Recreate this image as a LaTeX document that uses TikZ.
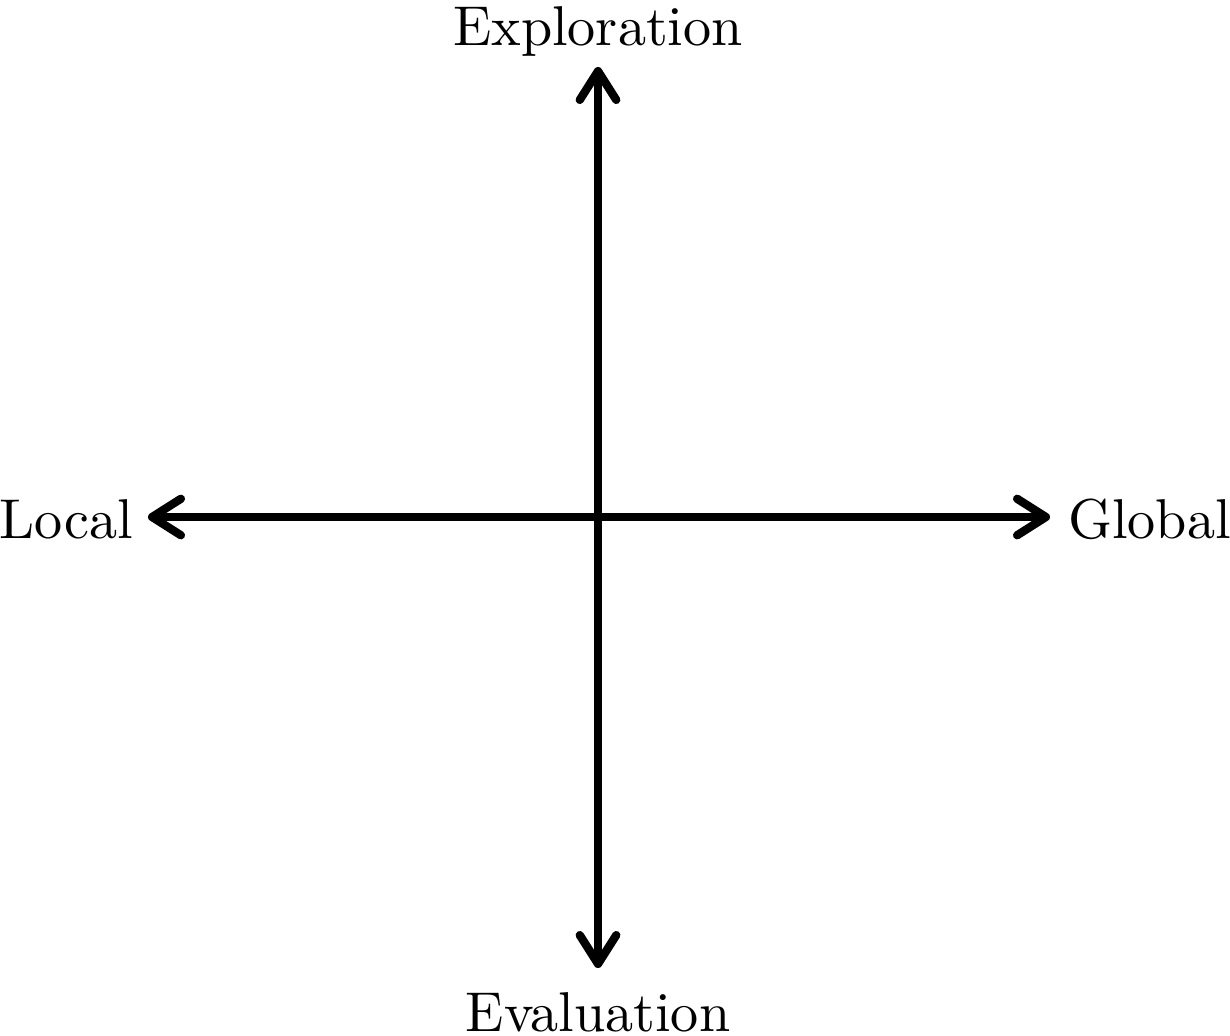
\documentclass[tikz,border=0pt]{standalone}
\usetikzlibrary{arrows.meta}
\begin{document}
\begin{tikzpicture}[x=0.1808pt,y=-0.1808pt,
  axis/.style={line width=1.5pt,{Straight Barb[length=5.2pt,width=6.6pt,line cap=round,line join=round]}-{Straight Barb[length=5.2pt,width=6.6pt,line cap=round,line join=round]}},
  lbl/.style={inner sep=0pt,font=\fontsize{10.15}{12}\selectfont}]
\useasboundingbox (0,0) rectangle (1230,1035);
\coordinate (top) at (598,67);
\coordinate (bot) at (598,968);
\coordinate (left) at (148,517);
\coordinate (right) at (1050,517);
\draw[axis] (left) -- (right);
\draw[axis] (bot) -- (top);
\node[lbl,anchor=base] (expl) at (598,45) {Exploration};
\node[lbl,anchor=base] (eval) at (598,1031) {Evaluation};
\node[lbl,anchor=base east] (loc) at (134,538) {Local};
\node[lbl,anchor=base west] (glob) at (1067,538) {Global};
\end{tikzpicture}
\end{document}
